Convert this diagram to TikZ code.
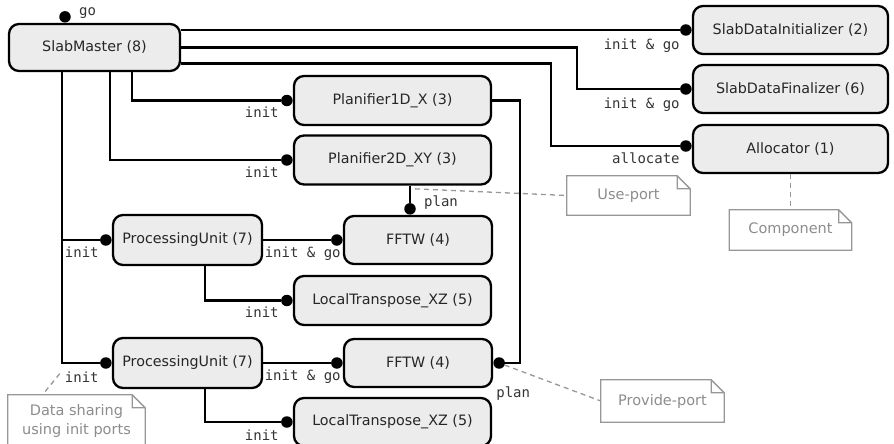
\documentclass[tikz,border=0pt]{standalone}
\usepackage{fontspec}
\newfontfamily\compfont{DejaVu Sans}
\newfontfamily\portfont{DejaVu Sans Mono}
\usetikzlibrary{calc}
\definecolor{compfill}{HTML}{ECECEC}
\definecolor{notegray}{HTML}{8C8C8C}

\begin{document}
\begin{tikzpicture}[x=1pt,y=-1pt,
  comp/.style={draw,line width=2.3pt,rounded corners=10pt,fill=compfill,text=black!85,
    font=\compfont\fontsize{14.3}{17}\selectfont,inner sep=0pt},
  port/.style={circle,fill=black,inner sep=0pt,minimum size=11.5pt},
  wire/.style={line width=2.5pt},
  lbl/.style={font=\portfont\fontsize{14}{16}\selectfont,inner sep=0pt,text=black!80},
  note/.style={text=notegray,font=\compfont\fontsize{14.5}{19}\selectfont,align=center,inner sep=0pt},
  noteline/.style={draw=notegray!90,line width=1.3pt},
  notewire/.style={draw=notegray!90,line width=1.3pt,dash pattern=on 5pt off 4pt}]
\useasboundingbox (0,0) rectangle (894,444);

% components
\node[comp,minimum width=171pt,minimum height=47pt] (nodeMaster) at (94.5,47.5) {SlabMaster (8)};
\node[comp,minimum width=195pt,minimum height=48pt] (nodeInit) at (790.5,30) {SlabDataInitializer (2)};
\node[comp,minimum width=195pt,minimum height=48pt] (nodeFin) at (790.5,89) {SlabDataFinalizer (6)};
\node[comp,minimum width=195pt,minimum height=48pt] (nodeAlloc) at (790.5,149) {Allocator (1)};
\node[comp,minimum width=197pt,minimum height=49pt] (nodePlanA) at (392.5,100.5) {Planifier1D\_X (3)};
\node[comp,minimum width=197pt,minimum height=49pt] (nodePlanB) at (392.5,160) {Planifier2D\_XY (3)};
\node[comp,minimum width=149pt,minimum height=50pt] (nodePUa) at (187.5,240) {ProcessingUnit (7)};
\node[comp,minimum width=148pt,minimum height=48pt] (nodeFFTWa) at (418,240) {FFTW (4)};
\node[comp,minimum width=197pt,minimum height=49pt] (nodeLTa) at (392.5,300.5) {LocalTranspose\_XZ (5)};
\node[comp,minimum width=149pt,minimum height=50pt] (nodePUb) at (187.5,363) {ProcessingUnit (7)};
\node[comp,minimum width=148pt,minimum height=48pt] (nodeFFTWb) at (418,363) {FFTW (4)};
\node[comp,minimum width=197pt,minimum height=48pt] (nodeLTb) at (392.5,422) {LocalTranspose\_XZ (5)};

% ports
\node[port] (portGo) at ([xshift=-29.5pt,yshift=6pt]nodeMaster.north) {};
\node[port] (portInit) at ([xshift=-6pt]nodeInit.west) {};
\node[port] (portFin) at ([xshift=-6pt]nodeFin.west) {};
\node[port] (portAlloc) at ([xshift=-6pt,yshift=3pt]nodeAlloc.west) {};
\node[port] (portPlanA) at ([xshift=-6pt]nodePlanA.west) {};
\node[port] (portPlanB) at ([xshift=-6pt]nodePlanB.west) {};
\node[port] (portPUa) at ([xshift=-6pt]nodePUa.west) {};
\node[port] (portFFTWa) at ([xshift=-6pt]nodeFFTWa.west) {};
\node[port] (portUse) at ([xshift=-8pt,yshift=6pt]nodeFFTWa.north) {};
\node[port] (portLTa) at ([xshift=-6pt]nodeLTa.west) {};
\node[port] (portPUb) at ([xshift=-6pt]nodePUb.west) {};
\node[port] (portFFTWb) at ([xshift=-6pt]nodeFFTWb.west) {};
\node[port] (portProv) at ([xshift=6pt]nodeFFTWb.east) {};
\node[port] (portLTb) at ([xshift=-6pt]nodeLTb.west) {};

% wires
\draw[wire] (nodeMaster.east |- portInit) -- (portInit);
\draw[wire] (nodeMaster.east) -| ([xshift=-109pt]portFin.center) -- (portFin);
\draw[wire] ([yshift=-16pt]nodeMaster.east) -| ([xshift=-135pt]portAlloc.center) -- (portAlloc);
\draw[wire] (nodeMaster.south) ++(37.5,0) |- (portPlanA);
\draw[wire] (nodeMaster.south) ++(15.5,0) |- (portPlanB);
\coordinate (trunk) at ($(nodeMaster.south)+(-32.5,0)$);
\draw[wire] (trunk) |- (portPUa) (trunk) |- (portPUb);
\draw[wire] (nodePUa.east) -- (portFFTWa);
\draw[wire] (nodePUb.east) -- (portFFTWb);
\draw[wire] (nodePUa.south) ++(17.5,0) |- (portLTa);
\draw[wire] (nodePUb.south) ++(17.5,0) |- (portLTb);
\draw[wire] (portUse) -- (portUse |- nodePlanB.south);
\draw[wire] (nodePlanA.east) -- ++(28,0) |- (portProv);

% port labels
\node[lbl,anchor=base west] (labGo) at ($(portGo)+(14,-1)$) {go};
\node[lbl,anchor=base east] (labInit) at ($(portInit)+(-6,19)$) {init \& go};
\node[lbl,anchor=base east] (labFin) at ($(portFin)+(-6,19)$) {init \& go};
\node[lbl,anchor=base east] (labAlloc) at ($(portAlloc)+(-6,17)$) {allocate};
\node[lbl,anchor=base east] (labPlanA) at ($(portPlanA)+(-8,17)$) {init};
\node[lbl,anchor=base east] (labPlanB) at ($(portPlanB)+(-8,17)$) {init};
\node[lbl,anchor=base east] (labPUa) at ($(portPUa)+(-7,17)$) {init};
\node[lbl,anchor=base east] (labPUb) at ($(portPUb)+(-7,19)$) {init};
\node[lbl,anchor=base east] (labFFTWa) at ($(portFFTWa)+(4,17)$) {init \& go};
\node[lbl,anchor=base east] (labFFTWb) at ($(portFFTWb)+(4,17)$) {init \& go};
\node[lbl,anchor=base east] (labLTa) at ($(portLTa)+(-8,17)$) {init};
\node[lbl,anchor=base east] (labLTb) at ($(portLTb)+(-8,18)$) {init};
\node[lbl,anchor=base west] (labUse) at ($(portUse)+(14,-2)$) {plan};
\node[lbl,anchor=base west] (labProv) at ($(portProv)+(-3,34)$) {plan};

% notes
\node[note,minimum width=123pt,minimum height=39pt] (noteUse) at (628.5,195.5) {Use-port};
\node[note,minimum width=122pt,minimum height=40pt] (noteComp) at (790.5,230) {Component};
\node[note,minimum width=123pt,minimum height=42pt] (noteProv) at (662.5,401) {Provide-port};
\node[note,minimum width=137pt,minimum height=51pt] (noteData) at (76.5,420.5) {Data sharing\\using init ports};
\foreach \n in {noteUse,noteComp,noteProv,noteData}
  \draw[noteline] (\n.north west) -- ([xshift=-13pt]\n.north east) -- ([yshift=-13pt]\n.north east)
    -- (\n.south east) -- (\n.south west) -- cycle
    ([xshift=-13pt]\n.north east) |- ([yshift=-13pt]\n.north east);
\coordinate (useTip) at ($(portUse)+(5,-20)$);
\draw[notewire] (useTip) -- (noteUse.west);
\draw[notewire] (nodeAlloc.south) -- (noteComp.north);
\draw[notewire] (portProv) -- (noteProv.west);
\draw[notewire] ($(labPUb.west)+(-5,-3)$) -- ([xshift=-34pt]noteData.north);
\end{tikzpicture}
\end{document}
